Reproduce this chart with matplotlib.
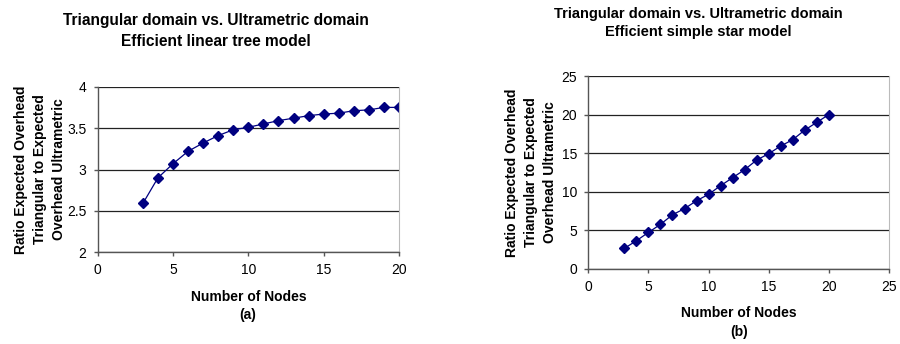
import numpy as np
import matplotlib.pyplot as plt

plt.rcParams['font.family'] = ['Liberation Sans', 'DejaVu Sans']

nodes = list(range(3, 21))
ratio_linear = [2.59, 2.90, 3.07, 3.22, 3.32, 3.41, 3.48, 3.51, 3.55,
                3.59, 3.62, 3.65, 3.67, 3.68, 3.71, 3.72, 3.75, 3.75]
ratio_star = [2.64, 3.63, 4.71, 5.75, 7.0, 7.79, 8.82, 9.65, 10.77,
              11.81, 12.85, 14.1, 14.92, 15.92, 16.74, 17.99, 18.99, 20.0]

ylabel = 'Ratio Expected Overhead\nTriangular to Expected\nOverhead Ultrametric'


def style_axes(ax):
    ax.grid(axis='y', color='#222222', lw=0.9)
    ax.set_axisbelow(True)
    for s in ['left', 'bottom']:
        ax.spines[s].set_color('#555555')
        ax.spines[s].set_linewidth(1.0)
    ax.spines['top'].set_visible(False)
    ax.spines['right'].set_color('#bbbbbb')
    ax.tick_params(direction='out', length=3, width=1, color='#555555',
                   labelsize=10, pad=5)


fig = plt.figure(figsize=(9, 3.44), dpi=100)

# (a) linear tree
ax1 = fig.add_axes([97.7 / 900, 1 - 252.3 / 344, 301.3 / 900, 165.6 / 344])
ax1.plot(nodes, ratio_linear, color='#000080', lw=0.9, marker='D', ms=5.5)
ax1.set_xlim(0, 20)
ax1.set_ylim(2, 4)
ax1.set_xticks([0, 5, 10, 15, 20])
ax1.set_yticks([2, 2.5, 3, 3.5, 4])
ax1.set_yticklabels(['2', '2.5', '3', '3.5', '4'])
style_axes(ax1)
ax1.set_xlabel('Number of Nodes', fontsize=10, fontweight='bold', labelpad=9)
fig.text(248 / 900, 1 - 315 / 344, '(a)', ha='center', va='center',
         fontsize=10, fontweight='bold')
ax1.set_ylabel(ylabel, fontsize=10, fontweight='bold', labelpad=1, linespacing=1.45)
fig.text(216 / 900, 1 - 20 / 344, 'Triangular domain vs. Ultrametric domain',
         ha='center', va='center', fontsize=11.2, fontweight='bold')
fig.text(216 / 900, 1 - 41 / 344, 'Efficient linear tree model',
         ha='center', va='center', fontsize=11.2, fontweight='bold')

# (b) simple star
ax2 = fig.add_axes([588.3 / 900, 1 - 268.7 / 344, 300.7 / 900, 192.7 / 344])
ax2.plot(nodes, ratio_star, color='#000080', lw=0.9, marker='D', ms=5.5)
ax2.set_xlim(0, 25)
ax2.set_ylim(0, 25)
ax2.set_xticks([0, 5, 10, 15, 20, 25])
ax2.set_yticks([0, 5, 10, 15, 20, 25])
style_axes(ax2)
ax2.set_xlabel('Number of Nodes', fontsize=10, fontweight='bold', labelpad=9)
fig.text(739 / 900, 1 - 332 / 344, '(b)', ha='center', va='center',
         fontsize=10, fontweight='bold')
ax2.set_ylabel(ylabel, fontsize=10, fontweight='bold', labelpad=3, linespacing=1.45)
fig.text(698 / 900, 1 - 14 / 344, 'Triangular domain vs. Ultrametric domain',
         ha='center', va='center', fontsize=10.5, fontweight='bold')
fig.text(698 / 900, 1 - 32 / 344, 'Efficient simple star model',
         ha='center', va='center', fontsize=10.5, fontweight='bold')

fig.savefig('out.png', dpi=100)
